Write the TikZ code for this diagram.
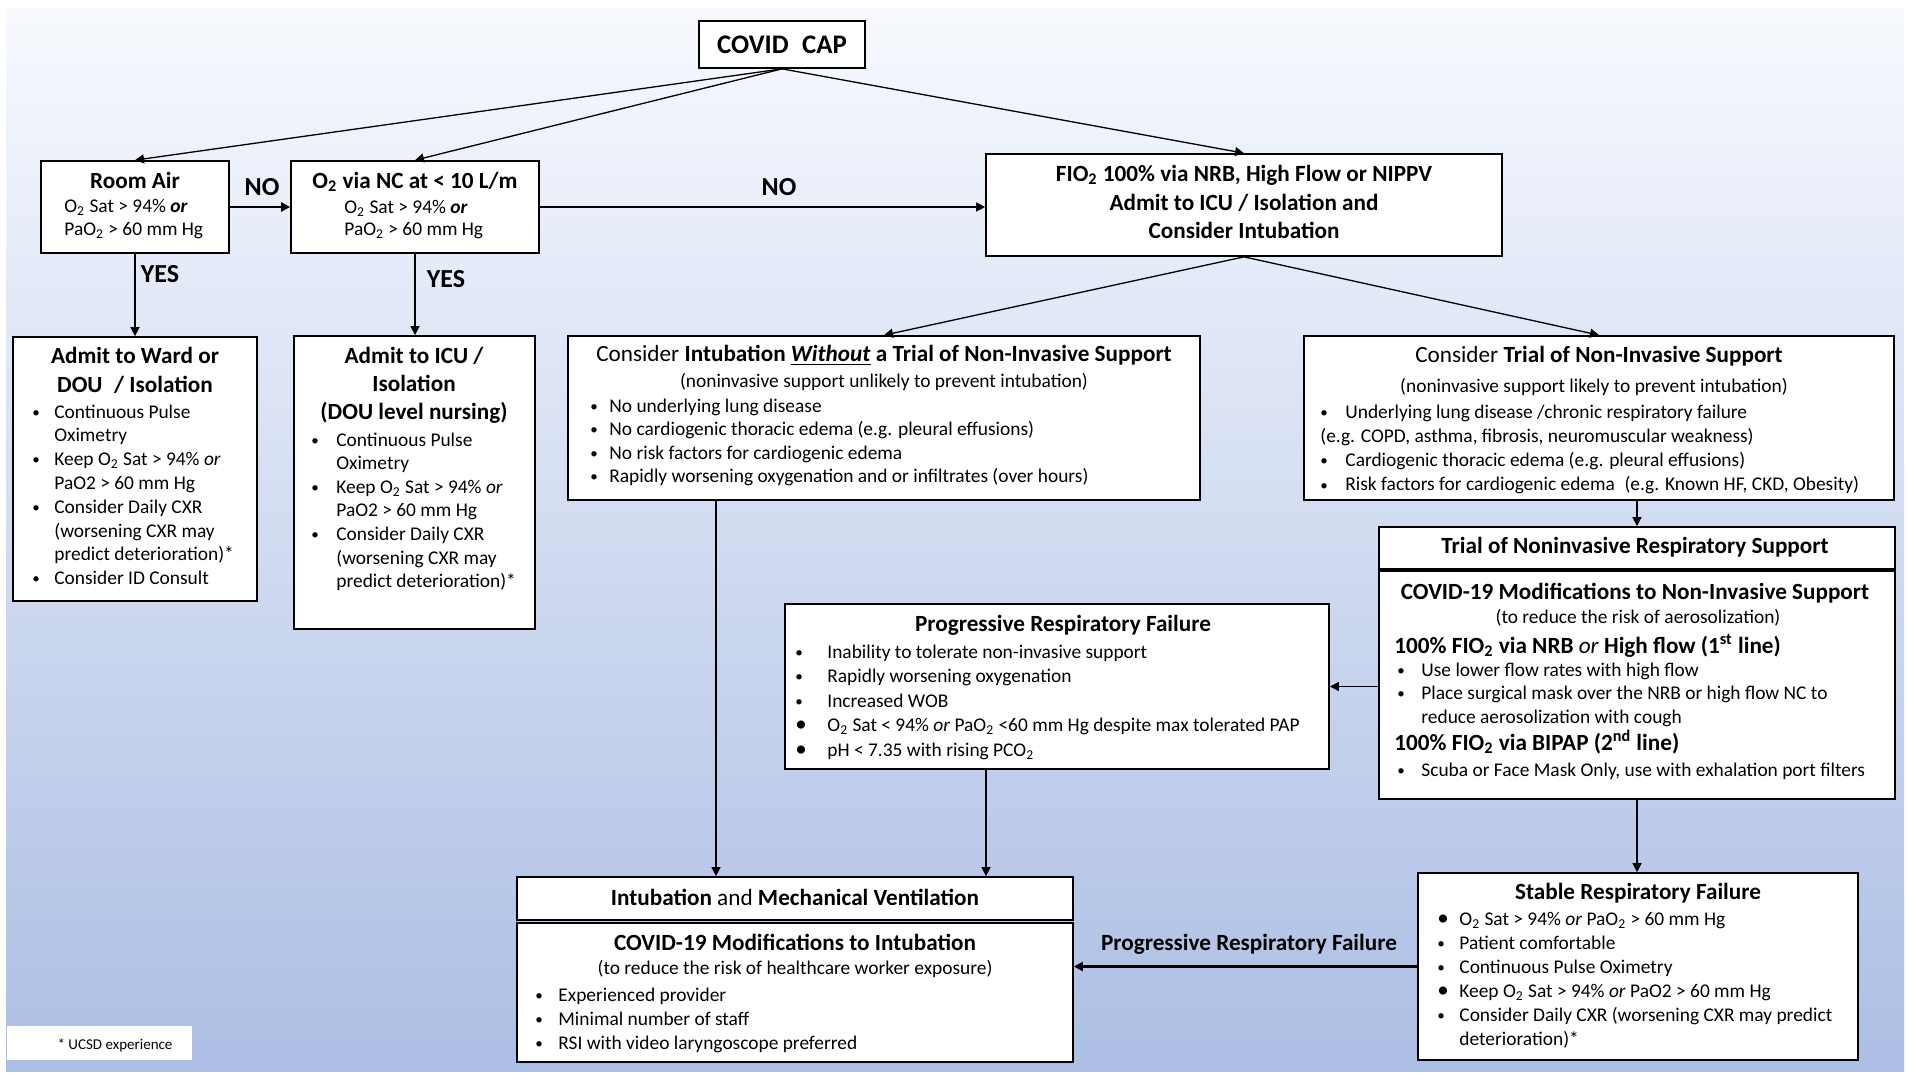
\documentclass[tikz,border=0pt]{standalone}
\usepackage{fontspec}
\setmainfont{Carlito}
\usetikzlibrary{arrows.meta,fit}
\definecolor{bgtop}{RGB}{247,249,254}
\definecolor{bgmid}{RGB}{208,219,240}
\definecolor{bgbot}{RGB}{172,190,228}
\newlength\bind
\newcommand\sub[1]{\textsubscript{#1}}
\newcommand\bi[1]{\par\noindent\hbox to\bind{\raisebox{0.4pt}{\fontsize{7.5}{8}\selectfont\textbullet}\hss}#1}
\newcommand\Bi[1]{\par\noindent\hbox to\bind{\raisebox{-0.2pt}{\fontsize{11.5}{12}\selectfont\textbullet}\hss}#1}
\newcommand\ci[1]{\par\noindent\hbox to\bind{\hss}#1}
\newcommand\noi[1]{\par\noindent#1}
\newcommand\blist[3]{\vtop{\hsize=700pt\parindent=0pt\parskip=0pt\bind=#1\relax\baselineskip=#2\relax\lineskiplimit=-20pt#3\par}}
\tikzset{
 box/.style={draw=black, line width=0.85pt, fill=white, inner sep=0pt},
 ttl/.style={font=\bfseries\fontsize{11.6}{14}\selectfont, inner sep=0pt, anchor=base},
 ttlr/.style={font=\fontsize{11.6}{14}\selectfont, inner sep=0pt, anchor=base},
 txt/.style={font=\fontsize{9.7}{12}\selectfont, inner sep=0pt, anchor=base},
 txtl/.style={txt, anchor=base west},
 lst/.style={font=\fontsize{9.7}{12}\selectfont, inner sep=0pt, anchor=base west},
 lbl/.style={font=\bfseries\fontsize{13}{15}\selectfont, inner sep=0pt, anchor=base},
 arr/.style={draw=black, line width=0.65pt, -{Triangle[length=4.5pt,width=4.5pt]}},
 tarr/.style={arr, line width=1.2pt},
}
\begin{document}
\begin{tikzpicture}[x=0.5pt,y=-0.5pt]
\useasboundingbox (0,0) rectangle (1907,1073);
\fill[white] (0,0) rectangle (1907,1073);
\shade[top color=bgtop, middle color=bgmid, bottom color=bgbot] (6,8) rectangle (1904,1071);

% ---------- boxes ----------
\node[box, fit={(699,21) (865,68)}] (cap) {};
\node[box, fit={(41,161) (229,253)}] (ra) {};
\node[box, fit={(291,161) (539,253)}] (nc) {};
\node[box, fit={(986,154) (1502,256)}] (fio) {};
\node[box, fit={(13,337) (257,601)}] (aw) {};
\node[box, fit={(294,336) (535,629)}] (ai) {};
\node[box, fit={(568,336) (1200,500)}] (iw) {};
\node[box, fit={(1304,336) (1894,500)}] (ct) {};
\node[box, fit={(1379,527) (1895,569)}] (th) {};
\node[box, fit={(1379,571) (1895,799)}] (mn) {};
\node[box, fit={(785,604) (1329,769)}] (pr) {};
\node[box, fit={(517,877) (1073,920)}] (mv) {};
\node[box, fit={(517,923) (1073,1062)}] (mi) {};
\node[box, fit={(1418,873) (1858,1060)}] (sr) {};
\node[fill=white, inner sep=0pt, fit={(7,1026) (192,1060)}] (ucsdB) {};

% ---------- texts ----------
\node[ttl, font=\bfseries\fontsize{13.4}{16}\selectfont] (capT) at (782,53) {COVID\hspace{0.5em}CAP};

\node[ttl] (raT) at (135,188) {Room Air};
\node[txtl] (ra1) at (64,212) {O\sub2 Sat > 94\% \textbf{\textit{or}}};
\node[txtl] (ra2) at (64,235) {PaO\sub2 > 60 mm Hg};

\node[ttl] (ncT) at (415,188) {O\sub2 via NC at < 10 L/m};
\node[txtl] (nc1) at (344,213) {O\sub2 Sat > 94\% \textbf{\textit{or}}};
\node[txtl] (nc2) at (344,235) {PaO\sub2 > 60 mm Hg};

\node[ttl] (fio1) at (1244,181) {FIO\sub2 100\% via NRB, High Flow or NIPPV};
\node[ttl] (fio2) at (1244,210) {Admit to ICU / Isolation and};
\node[ttl] (fio3) at (1244,238) {Consider Intubation};

\node[ttl] (awT1) at (135,363) {Admit to Ward or};
\node[ttl] (awT2) at (135,392) {DOU\hspace{0.5em}/ Isolation};
\node[lst] (awL) at (32,418) {\blist{11pt}{11.9pt}{\bi{Continuous Pulse}\ci{Oximetry}\bi{Keep O\sub2 Sat > 94\% \textit{or}}\ci{PaO2 > 60 mm Hg}\bi{Consider Daily CXR}\ci{(worsening CXR may}\ci{predict deterioration)*}\bi{Consider ID Consult}}};

\node[ttl] (aiT1) at (414,363) {Admit to ICU /};
\node[ttl] (aiT2) at (414,391) {Isolation};
\node[ttl] (aiT3) at (414,419) {(DOU level nursing)};
\node[lst] (aiL) at (311,446) {\blist{12.5pt}{11.8pt}{\bi{Continuous Pulse}\ci{Oximetry}\bi{Keep O\sub2 Sat > 94\% \textit{or}}\ci{PaO2 > 60 mm Hg}\bi{Consider Daily CXR}\ci{(worsening CXR may}\ci{predict deterioration)*}}};

\node[ttlr] (iwT) at (884,361) {Consider \textbf{Intubation \underline{\textit{Without}} a Trial of Non-Invasive Support}};
\node[txt] (iwS) at (884,387) {(noninvasive support unlikely to prevent intubation)};
\node[lst] (iwL) at (590,412) {\blist{9.5pt}{11.75pt}{\bi{No underlying lung disease}\bi{No cardiogenic thoracic edema (e.g. pleural effusions)}\bi{No risk factors for cardiogenic edema}\bi{Rapidly worsening oxygenation and or infiltrates (over hours)}}};

\node[ttlr] (ctT) at (1599,362) {Consider \textbf{Trial of Non-Invasive Support}};
\node[txt] (ctS) at (1594,392) {(noninvasive support likely to prevent intubation)};
\node[lst] (ctL) at (1320,418) {\blist{12.5pt}{12.15pt}{\bi{Underlying lung disease /chronic respiratory failure}\noi{(e.g. COPD, asthma, fibrosis, neuromuscular weakness)}\bi{Cardiogenic thoracic edema (e.g. pleural effusions)}\bi{Risk factors for cardiogenic edema\hspace{0.5em}(e.g. Known HF, CKD, Obesity)}}};

\node[ttl] (thT) at (1635,553) {Trial of Noninvasive Respiratory Support};

\node[ttl] (mnT) at (1635,599) {COVID-19 Modifications to Non-Invasive Support};
\node[txt] (mnS) at (1638,623) {(to reduce the risk of aerosolization)};
\node[ttl, anchor=base west] (mnH1) at (1394,653) {100\% FIO\sub2 via NRB \textmd{\textit{or}} High flow (1\textsuperscript{st} line)};
\node[lst] (mnL1) at (1397,676) {\blist{12pt}{11.75pt}{\bi{Use lower flow rates with high flow}\bi{Place surgical mask over the NRB or high flow NC to}\ci{reduce aerosolization with cough}}};
\node[ttl, anchor=base west] (mnH2) at (1394,750) {100\% FIO\sub2 via BIPAP (2\textsuperscript{nd} line)};
\node[lst] (mnL2) at (1397,776) {\blist{12pt}{11.75pt}{\bi{Scuba or Face Mask Only, use with exhalation port filters}}};

\node[ttl] (prT) at (1063,631) {Progressive Respiratory Failure};
\node[lst] (prL) at (795,658) {\blist{16pt}{12.25pt}{\bi{Inability to tolerate non-invasive support}\bi{Rapidly worsening oxygenation}\bi{Increased WOB}\Bi{O\sub2 Sat < 94\% \textit{or} PaO\sub2 <60 mm Hg despite max tolerated PAP}\Bi{pH < 7.35 with rising PCO\sub2}}};

\node[ttl] (mvT) at (795,905) {Intubation \textmd{and} Mechanical Ventilation};

\node[ttl] (miT) at (795,950) {COVID-19 Modifications to Intubation};
\node[txt] (miS) at (795,974) {(to reduce the risk of healthcare worker exposure)};
\node[lst] (miL) at (535,1001) {\blist{11.5pt}{12pt}{\bi{Experienced provider}\bi{Minimal number of staff}\bi{RSI with video laryngoscope preferred}}};

\node[ttl] (srT) at (1638,899) {Stable Respiratory Failure};
\node[lst] (srL) at (1437,925) {\blist{11pt}{12pt}{\Bi{O\sub2 Sat > 94\% \textit{or} PaO\sub2 > 60 mm Hg}\bi{Patient comfortable}\bi{Continuous Pulse Oximetry}\Bi{Keep O\sub2 Sat > 94\% \textit{or} PaO2 > 60 mm Hg}\bi{Consider Daily CXR (worsening CXR may predict}\ci{deterioration)*}}};

\node[font=\fontsize{7.5}{9}\selectfont, inner sep=0pt, anchor=base] (ucsd) at (115,1049) {* UCSD experience};

% ---------- labels ----------
\node[lbl] (no1) at (262,195) {NO};
\node[lbl] (no2) at (779,195) {NO};
\node[lbl] (yes1) at (160,282) {YES};
\node[lbl] (yes2) at (446,287) {YES};
\node[ttl] (prl) at (1249,950) {Progressive Respiratory Failure};

% ---------- connectors ----------
\draw[arr] (cap.south) -- (ra.north);
\draw[arr] (cap.south) -- (nc.north);
\draw[arr] (cap.south) -- (fio.north);
\draw[tarr] (ra.east) -- (nc.west);
\draw[arr] (nc.east) -- (fio.west |- nc.east);
\draw[arr] (ra.south) -- (aw.north);
\draw[arr] (nc.south) -- (ai.north -| nc.south);
\draw[arr] (fio.south) -- (iw.north);
\draw[arr] (fio.south) -- (ct.north);
\draw[arr] (ct.south -| th.north) -- (th.north);
\draw[arr] (mn.south) -- (sr.north -| mn.south);
\draw[arr] (mn.west |- pr.east) -- (pr.east);
\draw[arr] (iw.south -| 716,0) -- (mv.north -| 716,0);
\draw[arr] (pr.south -| 986,0) -- (mv.north -| 986,0);
\draw[tarr] (sr.west) -- (mi.east |- sr.west);
\end{tikzpicture}
\end{document}
